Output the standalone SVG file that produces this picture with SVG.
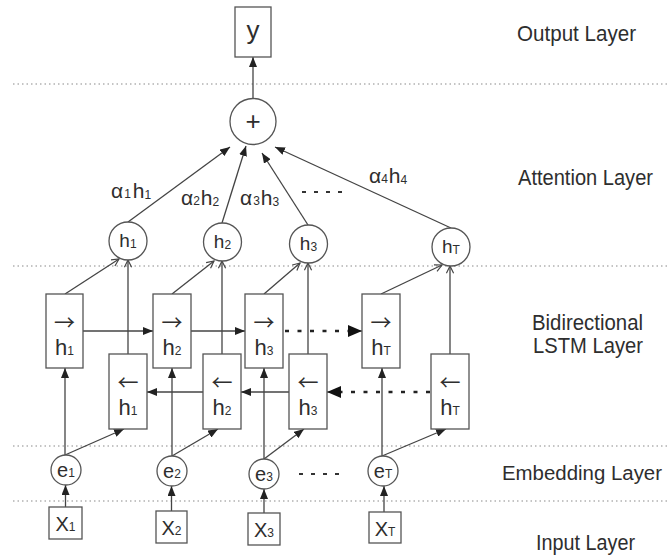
<svg xmlns="http://www.w3.org/2000/svg" width="671" height="557" viewBox="0 0 671 557">
  <style>
    .bg { fill: #ffffff; }
    .sep { stroke: #8a8a8a; stroke-width: 1.2; stroke-dasharray: 1.5 3; fill: none; }
    .node { fill: #ffffff; stroke: #555555; stroke-width: 1.3; }
    .edge { stroke: #444444; stroke-width: 1.3; fill: none; }
    .dotted { stroke: #222222; stroke-width: 2.4; stroke-dasharray: 4 8.5; fill: none; }
    .ellipsis { stroke: #333333; stroke-width: 2; stroke-dasharray: 4 8; fill: none; }
    text { font-family: "Liberation Sans", Arial, sans-serif; fill: #2e2e2e; }
    .layer { font-size: 22px; }
    .layer-sm { font-size: 20px; }
    .cell { font-size: 22px; text-anchor: middle; }
    .arw { font-family: "Noto Sans CJK SC", "Liberation Sans", sans-serif; font-size: 21px; text-anchor: middle; }
    .att { font-size: 19px; text-anchor: middle; }
    .emb { font-size: 20px; text-anchor: middle; }
    .lab { font-size: 21px; }
    .sub { font-size: 12px; }
  </style>
  <defs>
    <marker id="tri" viewBox="0 0 10 8" refX="10" refY="4" markerWidth="10" markerHeight="8" markerUnits="userSpaceOnUse" orient="auto">
      <path d="M0,0 L10,4 L0,8 z" fill="#222222"/>
    </marker>
    <marker id="bigtri" viewBox="0 0 14 12" refX="14" refY="6" markerWidth="14" markerHeight="12" markerUnits="userSpaceOnUse" orient="auto">
      <path d="M0,0 L14,6 L0,12 z" fill="#111111"/>
    </marker>
    <marker id="open" viewBox="0 0 10 10" refX="9" refY="5" markerWidth="9" markerHeight="9" markerUnits="userSpaceOnUse" orient="auto">
      <path d="M1,1 L9,5 L1,9" fill="none" stroke="#444444" stroke-width="1.3"/>
    </marker>
  </defs>

  <rect class="bg" x="0" y="0" width="671" height="557"/>

  <!-- layer separators -->
  <g id="separators">
    <line class="sep" x1="13" y1="84" x2="668" y2="84"/>
    <line class="sep" x1="13" y1="266" x2="668" y2="266"/>
    <line class="sep" x1="13" y1="446" x2="668" y2="446"/>
    <line class="sep" x1="13" y1="501" x2="668" y2="501"/>
  </g>

  <!-- layer names -->
  <g id="layer-labels">
    <text class="layer" x="517" y="41" textLength="119" lengthAdjust="spacingAndGlyphs">Output Layer</text>
    <text class="layer" x="518" y="185" textLength="135" lengthAdjust="spacingAndGlyphs">Attention Layer</text>
    <text class="layer" x="532" y="330" textLength="111" lengthAdjust="spacingAndGlyphs">Bidirectional</text>
    <text class="layer" x="533" y="353" textLength="110" lengthAdjust="spacingAndGlyphs">LSTM Layer</text>
    <text class="layer-sm" x="502" y="480" textLength="160" lengthAdjust="spacingAndGlyphs">Embedding Layer</text>
    <text class="layer" x="536" y="550" textLength="99" lengthAdjust="spacingAndGlyphs">Input Layer</text>
  </g>

  <!-- connectors -->
  <g id="connectors">
    <!-- sum to output -->
    <line class="edge" x1="253" y1="98" x2="253" y2="57" marker-end="url(#tri)"/>
    <!-- weighted states to sum -->
    <line class="edge" x1="128" y1="222" x2="230" y2="147" marker-end="url(#tri)"/>
    <line class="edge" x1="222" y1="223" x2="246" y2="146" marker-end="url(#tri)"/>
    <line class="edge" x1="308" y1="225" x2="262" y2="153" marker-end="url(#tri)"/>
    <line class="edge" x1="451" y1="228" x2="275" y2="147" marker-end="url(#tri)"/>
    <!-- LSTM cells to attention states -->
    <line class="edge" x1="65" y1="294" x2="119" y2="259" marker-end="url(#open)"/>
    <line class="edge" x1="128" y1="354" x2="128" y2="260" marker-end="url(#open)"/>
    <line class="edge" x1="172" y1="294" x2="214" y2="261" marker-end="url(#open)"/>
    <line class="edge" x1="222" y1="354" x2="222" y2="261" marker-end="url(#open)"/>
    <line class="edge" x1="264" y1="294" x2="300" y2="263" marker-end="url(#open)"/>
    <line class="edge" x1="308" y1="354" x2="308" y2="263" marker-end="url(#open)"/>
    <line class="edge" x1="381" y1="294" x2="442" y2="265" marker-end="url(#open)"/>
    <line class="edge" x1="450" y1="354" x2="450" y2="266" marker-end="url(#open)"/>
    <!-- forward recurrence -->
    <line class="edge" x1="83" y1="331" x2="153" y2="331" marker-end="url(#tri)"/>
    <line class="edge" x1="191" y1="331" x2="245" y2="331" marker-end="url(#tri)"/>
    <line class="dotted" x1="285" y1="331" x2="350" y2="331"/>
    <line class="edge" x1="348" y1="331" x2="362" y2="331" marker-end="url(#bigtri)"/>
    <!-- backward recurrence -->
    <line class="edge" x1="289" y1="392" x2="241" y2="392" marker-end="url(#tri)"/>
    <line class="edge" x1="203" y1="392" x2="147" y2="392" marker-end="url(#tri)"/>
    <line class="dotted" x1="430" y1="392" x2="338" y2="392"/>
    <line class="edge" x1="341" y1="392" x2="327" y2="392" marker-end="url(#bigtri)"/>
    <!-- embeddings to cells -->
    <line class="edge" x1="65" y1="455" x2="65" y2="368" marker-end="url(#tri)"/>
    <line class="edge" x1="65" y1="455" x2="124" y2="429" marker-end="url(#tri)"/>
    <line class="edge" x1="172" y1="456" x2="172" y2="368" marker-end="url(#tri)"/>
    <line class="edge" x1="172" y1="456" x2="218" y2="429" marker-end="url(#tri)"/>
    <line class="edge" x1="264" y1="459" x2="264" y2="368" marker-end="url(#tri)"/>
    <line class="edge" x1="264" y1="459" x2="304" y2="429" marker-end="url(#tri)"/>
    <line class="edge" x1="382" y1="456" x2="382" y2="368" marker-end="url(#tri)"/>
    <line class="edge" x1="382" y1="456" x2="446" y2="429" marker-end="url(#tri)"/>
    <!-- inputs to embeddings -->
    <line class="edge" x1="65.5" y1="507" x2="65.5" y2="485" marker-end="url(#tri)"/>
    <line class="edge" x1="171.5" y1="511" x2="171.5" y2="486" marker-end="url(#tri)"/>
    <line class="edge" x1="264" y1="513" x2="264" y2="489" marker-end="url(#tri)"/>
    <line class="edge" x1="384" y1="512" x2="384" y2="486" marker-end="url(#tri)"/>
  </g>

  <!-- ellipses between nodes -->
  <g id="ellipses">
    <line class="ellipsis" x1="302" y1="192" x2="346" y2="192"/>
    <line class="ellipsis" x1="299" y1="474" x2="343" y2="474"/>
  </g>

  <!-- attention weight labels -->
  <g id="weights">
    <text class="lab" x="111" y="198">α<tspan class="sub" dx="1" dy="0">1</tspan><tspan dx="2">h</tspan><tspan class="sub" dy="1">1</tspan></text>
    <text class="lab" x="181" y="205">α<tspan class="sub" dy="0">2</tspan><tspan dx="1">h</tspan><tspan class="sub" dy="1">2</tspan></text>
    <text class="lab" x="240" y="205">α<tspan class="sub" dx="1" dy="0">3</tspan><tspan dx="1">h</tspan><tspan class="sub" dy="1">3</tspan></text>
    <text class="lab" x="369" y="183">α<tspan class="sub" dy="0">4</tspan><tspan dx="1">h</tspan><tspan class="sub" dy="1">4</tspan></text>
  </g>

  <!-- output -->
  <g id="output-y">
    <rect class="node" x="235" y="7" width="36" height="50"/>
    <text x="253" y="39" font-size="26" text-anchor="middle">y</text>
  </g>
  <g id="sum">
    <circle class="node" cx="253" cy="121.5" r="23"/>
    <text x="253" y="130" font-size="26" text-anchor="middle">+</text>
  </g>

  <!-- attention states -->
  <g id="att-h1">
    <circle class="node" cx="128" cy="241" r="19"/>
    <text class="att" x="128" y="247">h<tspan class="sub" dy="1">1</tspan></text>
  </g>
  <g id="att-h2">
    <circle class="node" cx="222.5" cy="242" r="19"/>
    <text class="att" x="222.5" y="248">h<tspan class="sub" dy="1">2</tspan></text>
  </g>
  <g id="att-h3">
    <circle class="node" cx="308.5" cy="244" r="19"/>
    <text class="att" x="308.5" y="250">h<tspan class="sub" dy="1">3</tspan></text>
  </g>
  <g id="att-hT">
    <circle class="node" cx="451" cy="247" r="19"/>
    <text class="att" x="451" y="253">h<tspan class="sub" dy="1">T</tspan></text>
  </g>

  <!-- forward LSTM cells -->
  <g id="fwd-h1">
    <rect class="node" x="46" y="294" width="37" height="74"/>
    <text class="arw" x="64.5" y="330">→</text>
    <text class="cell" x="64.5" y="355">h<tspan class="sub" dy="0">1</tspan></text>
  </g>
  <g id="fwd-h2">
    <rect class="node" x="153" y="294" width="38" height="74"/>
    <text class="arw" x="172" y="330">→</text>
    <text class="cell" x="172" y="355">h<tspan class="sub" dy="0">2</tspan></text>
  </g>
  <g id="fwd-h3">
    <rect class="node" x="245" y="294" width="38" height="74"/>
    <text class="arw" x="264" y="330">→</text>
    <text class="cell" x="264" y="355">h<tspan class="sub" dy="0">3</tspan></text>
  </g>
  <g id="fwd-hT">
    <rect class="node" x="362" y="294" width="38" height="74"/>
    <text class="arw" x="381" y="330">→</text>
    <text class="cell" x="381" y="355">h<tspan class="sub" dy="0">T</tspan></text>
  </g>

  <!-- backward LSTM cells -->
  <g id="bwd-h1">
    <rect class="node" x="109" y="354" width="38" height="75"/>
    <text class="arw" x="128" y="390">←</text>
    <text class="cell" x="128" y="415">h<tspan class="sub" dy="0">1</tspan></text>
  </g>
  <g id="bwd-h2">
    <rect class="node" x="203" y="354" width="38" height="75"/>
    <text class="arw" x="222" y="390">←</text>
    <text class="cell" x="222" y="415">h<tspan class="sub" dy="0">2</tspan></text>
  </g>
  <g id="bwd-h3">
    <rect class="node" x="289" y="354" width="38" height="75"/>
    <text class="arw" x="308" y="390">←</text>
    <text class="cell" x="308" y="415">h<tspan class="sub" dy="0">3</tspan></text>
  </g>
  <g id="bwd-hT">
    <rect class="node" x="431" y="354" width="38" height="75"/>
    <text class="arw" x="450" y="390">←</text>
    <text class="cell" x="450" y="415">h<tspan class="sub" dy="0">T</tspan></text>
  </g>

  <!-- embeddings -->
  <g id="emb-e1">
    <circle class="node" cx="66" cy="470" r="15"/>
    <text class="emb" x="66" y="477">e<tspan class="sub" dy="0">1</tspan></text>
  </g>
  <g id="emb-e2">
    <circle class="node" cx="172" cy="471" r="15"/>
    <text class="emb" x="172" y="478">e<tspan class="sub" dy="0">2</tspan></text>
  </g>
  <g id="emb-e3">
    <circle class="node" cx="264" cy="474" r="15"/>
    <text class="emb" x="264" y="481">e<tspan class="sub" dy="0">3</tspan></text>
  </g>
  <g id="emb-eT">
    <circle class="node" cx="383" cy="471" r="15"/>
    <text class="emb" x="383" y="478">e<tspan class="sub" dy="0">T</tspan></text>
  </g>

  <!-- inputs -->
  <g id="in-x1">
    <rect class="node" x="49" y="507" width="33" height="32"/>
    <text class="emb" x="65.5" y="531">X<tspan class="sub" dy="0">1</tspan></text>
  </g>
  <g id="in-x2">
    <rect class="node" x="156" y="511" width="31" height="32"/>
    <text class="emb" x="171.5" y="535">X<tspan class="sub" dy="0">2</tspan></text>
  </g>
  <g id="in-x3">
    <rect class="node" x="248" y="513" width="32" height="32"/>
    <text class="emb" x="264" y="537">X<tspan class="sub" dy="0">3</tspan></text>
  </g>
  <g id="in-xT">
    <rect class="node" x="369" y="512" width="32" height="31"/>
    <text class="emb" x="385" y="536">X<tspan class="sub" dy="0">T</tspan></text>
  </g>
</svg>
